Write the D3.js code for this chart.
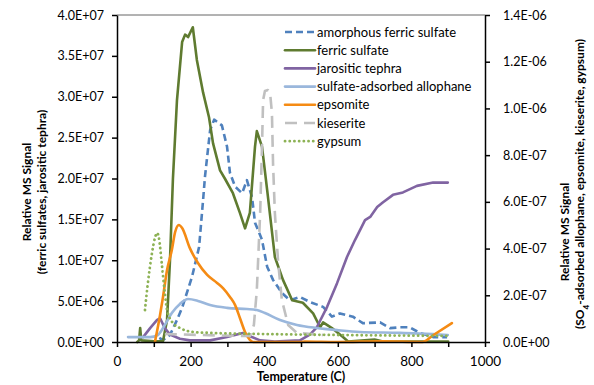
<!DOCTYPE html>
<html>
<head>
<meta charset="utf-8">
<script src="https://cdn.jsdelivr.net/npm/d3@7"></script>
<style>
  body { margin: 0; background: #fff; }
  svg { display: block; font-family: Lato, "Open Sans", sans-serif; }
  .axis path, .axis line { stroke: #000; stroke-width: 1.5px; }
  .axis text { font-size: 12.5px; fill: #000; font-family: Lato, sans-serif; }
  .title { font-weight: bold; font-size: 12px; }
</style>
</head>
<body>
<svg id="chart"></svg>
<script>
// temperature (C), value pairs
const amorphousFerricSulfate = [
  [115, 0.5e6], [125, 0.24e6], [144, 0.86e6], [163, 2.7e6], [177, 4.2e6], [204, 8.0e6], [223, 1.16e7],
  [234, 1.74e7], [239, 2.02e7], [253, 2.59e7], [264, 2.72e7], [285, 2.65e7], [299, 2.39e7], [307, 2.07e7],
  [321, 1.9e7], [340, 1.82e7], [353, 1.98e7], [367, 1.77e7], [375, 1.46e7], [394, 1.25e7], [408, 9.2e6],
  [424, 7.6e6], [448, 6.0e6], [470, 5.1e6], [497, 5.5e6], [524, 4.9e6], [560, 4.3e6], [584, 3.1e6],
  [606, 3.5e6], [641, 3.1e6], [668, 2.3e6], [715, 2.4e6], [742, 1.7e6], [769, 1.8e6], [796, 1.8e6],
  [823, 1.1e6], [859, 0.6e6], [897, 0.6e6]
];
const ferricSulfate = [
  [55, 0], [60, 0.2e6], [63, 1.7e6], [66, 0.2e6], [100, 0.1e6], [125, 0.1e6], [136, 2.7e6], [144, 1.0e7],
  [152, 2.0e7], [163, 2.96e7], [177, 3.67e7], [185, 3.76e7], [193, 3.73e7], [206, 3.85e7], [217, 3.45e7],
  [234, 3.05e7], [250, 2.75e7], [261, 2.43e7], [280, 2.1e7], [293, 2.0e7], [315, 1.82e7], [334, 1.58e7],
  [348, 1.39e7], [361, 1.58e7], [375, 2.39e7], [380, 2.58e7], [394, 2.39e7], [408, 1.86e7], [429, 1.04e7],
  [451, 7.6e6], [476, 5.1e6], [505, 4.8e6], [533, 3.5e6], [552, 1.8e6], [560, 2.4e6], [584, 1.7e6],
  [614, 0.6e6], [628, 0.05e6], [700, 0.3e6], [720, 0.1e6], [900, 0.05e6]
];
const jarositicTephra = [
  [71, 0.6e6], [90, 1.7e6], [109, 2.7e6], [117, 2.9e6], [130, 1.7e6], [144, 0.9e6], [171, 0.4e6],
  [198, 0.2e6], [253, 0.2e6], [299, 0.6e6], [342, 1.1e6], [361, 0.7e6], [389, 0.2e6], [429, 0.05e6],
  [497, 0.2e6], [524, 0.9e6], [543, 1.8e6], [571, 4.3e6], [598, 7.2e6], [625, 1.04e7], [647, 1.25e7],
  [674, 1.49e7], [688, 1.53e7], [707, 1.65e7], [723, 1.71e7], [750, 1.8e7], [777, 1.83e7], [815, 1.91e7],
  [859, 1.95e7], [899, 1.95e7]
];
const sulfateAdsorbedAllophane = [
  [30, 2.1e-8], [90, 2.1e-8], [111, 3.0e-8], [130, 7.3e-8], [149, 1.24e-7], [171, 1.63e-7], [193, 1.84e-7],
  [220, 1.76e-7], [253, 1.58e-7], [299, 1.46e-7], [353, 1.41e-7], [380, 1.37e-7], [402, 1.24e-7],
  [443, 9.4e-8], [489, 7.3e-8], [543, 6.0e-8], [598, 5.1e-8], [660, 4.3e-8], [769, 3.9e-8], [899, 3.0e-8]
];
const epsomite = [
  [103, 0], [117, 1.16e-7], [125, 1.93e-7], [136, 3.08e-7], [149, 3.94e-7], [158, 4.71e-7], [168, 5.01e-7],
  [177, 4.88e-7], [198, 4.02e-7], [220, 3.38e-7], [245, 2.87e-7], [272, 2.53e-7], [288, 2.31e-7],
  [307, 1.93e-7], [321, 1.58e-7], [334, 1.03e-7], [348, 4.3e-8], [361, 0.9e-8], [370, 0], [500, 0],
  [510, 2e-9], [600, 0], [720, 3e-9], [830, 0], [860, 3e-8], [910, 8.1e-8]
];
const kieserite = [
  [130, 3.4e-8], [226, 3.0e-8], [334, 2.6e-8], [361, 2.6e-8], [372, 7.3e-8], [380, 2.23e-7], [389, 5.52e-7],
  [394, 8.35e-7], [397, 1.036e-6], [402, 1.075e-6], [410, 1.079e-6], [416, 1.066e-6], [421, 9.8e-7],
  [424, 7.66e-7], [429, 5.52e-7], [438, 3.38e-7], [448, 1.8e-7], [465, 7.3e-8], [489, 3.9e-8], [560, 3.0e-8]
];
const gypsum = [
  [76, 1.37e-7], [83, 2.4e-7], [95, 3.8e-7], [103, 4.45e-7], [109, 4.67e-7], [114, 4.45e-7], [122, 3.3e-7],
  [130, 2.1e-7], [136, 1.37e-7], [152, 8.1e-8], [171, 6.0e-8], [207, 4.3e-8], [253, 3.9e-8], [400, 3.4e-8],
  [600, 3.0e-8], [900, 2.6e-8]
];

const seriesNames = ['amorphous ferric sulfate', 'ferric sulfate', 'jarositic tephra',
  'sulfate-adsorbed allophane', 'epsomite', 'kieserite', 'gypsum'];

const xTicks = [0, 100, 200, 300, 400, 500, 600, 700, 800, 900, 1000];
const xTickLabels = ['0', '', '200', '', '400', '', '600', '', '800', '', '1000'];
const leftTicks = [0, 5e6, 1e7, 1.5e7, 2e7, 2.5e7, 3e7, 3.5e7, 4e7];
const leftTickLabels = ['0.0E+00', '5.0E+06', '1.0E+07', '1.5E+07', '2.0E+07', '2.5E+07', '3.0E+07', '3.5E+07', '4.0E+07'];
const rightTicks = [0, 2e-7, 4e-7, 6e-7, 8e-7, 1e-6, 1.2e-6, 1.4e-6];
const rightTickLabels = ['0.0E+00', '2.0E-07', '4.0E-07', '6.0E-07', '8.0E-07', '1.0E-06', '1.2E-06', '1.4E-06'];

const W = 594, H = 385;
const plot = {left: 117, right: 485, top: 15, bottom: 342};

const svg = d3.select('#chart').attr('width', W).attr('height', H);

const x = d3.scaleLinear().domain([0, 1000]).range([plot.left, plot.right]);
const yL = d3.scaleLinear().domain([0, 4e7]).range([plot.bottom, plot.top]);
const yR = d3.scaleLinear().domain([0, 1.4e-6]).range([plot.bottom, plot.top]);

// plot area top border
svg.append('line')
  .attr('x1', plot.left).attr('x2', plot.right)
  .attr('y1', plot.top).attr('y2', plot.top)
  .attr('stroke', '#666').attr('stroke-width', 1);

const styles = [
  {data: amorphousFerricSulfate, y: yL, color: '#4F81BD', dash: '7,4', width: 2.6, cap: 'butt'},
  {data: ferricSulfate, y: yL, color: '#5F7B30', dash: null, width: 2.6, cap: 'round'},
  {data: jarositicTephra, y: yL, color: '#8064A2', dash: null, width: 2.6, cap: 'round'},
  {data: sulfateAdsorbedAllophane, y: yR, color: '#9AB7DC', dash: null, width: 2.6, cap: 'round', smooth: true},
  {data: epsomite, y: yR, color: '#F58B14', dash: null, width: 2.6, cap: 'round', smooth: true},
  {data: kieserite, y: yR, color: '#C0C0C0', dash: '12,7', width: 2.6, cap: 'butt'},
  {data: gypsum, y: yR, color: '#8DB255', dash: '0.1,4.6', width: 2.8, cap: 'round', smooth: true}
];

const lines = svg.append('g');
styles.forEach(s => {
  const line = d3.line()
    .x(d => x(d[0]))
    .y(d => s.y(d[1]))
    .curve(s.smooth ? d3.curveMonotoneX : d3.curveLinear);
  lines.append('path')
    .datum(s.data)
    .attr('d', line)
    .attr('fill', 'none')
    .attr('stroke', s.color)
    .attr('stroke-width', s.width)
    .attr('stroke-linejoin', 'round')
    .attr('stroke-linecap', s.cap)
    .attr('stroke-dasharray', s.dash);
});

// axes
const xAxis = d3.axisBottom(x).tickValues(xTicks).tickSize(5).tickSizeOuter(0)
  .tickFormat((d, i) => xTickLabels[i]);
svg.append('g').attr('class', 'axis').attr('transform', `translate(0,${plot.bottom})`)
  .call(xAxis)
  .call(g => g.selectAll('text').attr('dy', '1.15em').style('font-size', '13.5px'));

const leftAxis = d3.axisLeft(yL).tickValues(leftTicks).tickSize(5).tickSizeOuter(0)
  .tickFormat((d, i) => leftTickLabels[i]);
svg.append('g').attr('class', 'axis').attr('transform', `translate(${plot.left},0)`)
  .call(leftAxis)
  .call(g => g.selectAll('text').attr('x', -13));

const rightAxis = d3.axisRight(yR).tickValues(rightTicks).tickSize(5).tickSizeOuter(0)
  .tickFormat((d, i) => rightTickLabels[i]);
svg.append('g').attr('class', 'axis').attr('transform', `translate(${plot.right},0)`)
  .call(rightAxis)
  .call(g => g.selectAll('text').attr('x', 18));

// axis titles
svg.append('text').attr('class', 'title')
  .attr('x', (plot.left + plot.right) / 2).attr('y', 381)
  .attr('text-anchor', 'middle').style('font-size', '12.5px')
  .text('Temperature (C)');

const leftTitle = svg.append('text').attr('class', 'title')
  .attr('transform', 'translate(31,192) rotate(-90)')
  .attr('text-anchor', 'middle');
leftTitle.append('tspan').attr('x', 0).attr('y', 0).text('Relative MS Signal');
leftTitle.append('tspan').attr('x', 0).attr('y', 15).text('(ferric sulfates, jarositic tephra)');

const rightTitle = svg.append('text').attr('class', 'title')
  .attr('transform', 'translate(569,0) rotate(-90)')
  .attr('text-anchor', 'middle');
rightTitle.append('tspan').attr('x', -232).attr('y', 0).text('Relative MS Signal');
const r2 = rightTitle.append('tspan').attr('x', -184).attr('y', 15);
r2.append('tspan').text('(SO');
r2.append('tspan').attr('baseline-shift', 'sub').style('font-size', '8px').text('4');
r2.append('tspan').text('-adsorbed allophane, epsomite, kieserite, gypsum)');

// legend
const legend = svg.append('g').attr('transform', 'translate(285,32)');
styles.forEach((s, i) => {
  const row = legend.append('g').attr('transform', `translate(0,${i * 18.2})`);
  row.append('line')
    .attr('x1', 0).attr('x2', 30).attr('y1', 0).attr('y2', 0)
    .attr('stroke', s.color)
    .attr('stroke-width', s.width)
    .attr('stroke-linecap', s.cap)
    .attr('stroke-dasharray', s.dash);
  row.append('text')
    .attr('x', 32).attr('y', 0).attr('dy', '0.35em')
    .style('font-size', '13px')
    .text(seriesNames[i]);
});
</script>
</body>
</html>
